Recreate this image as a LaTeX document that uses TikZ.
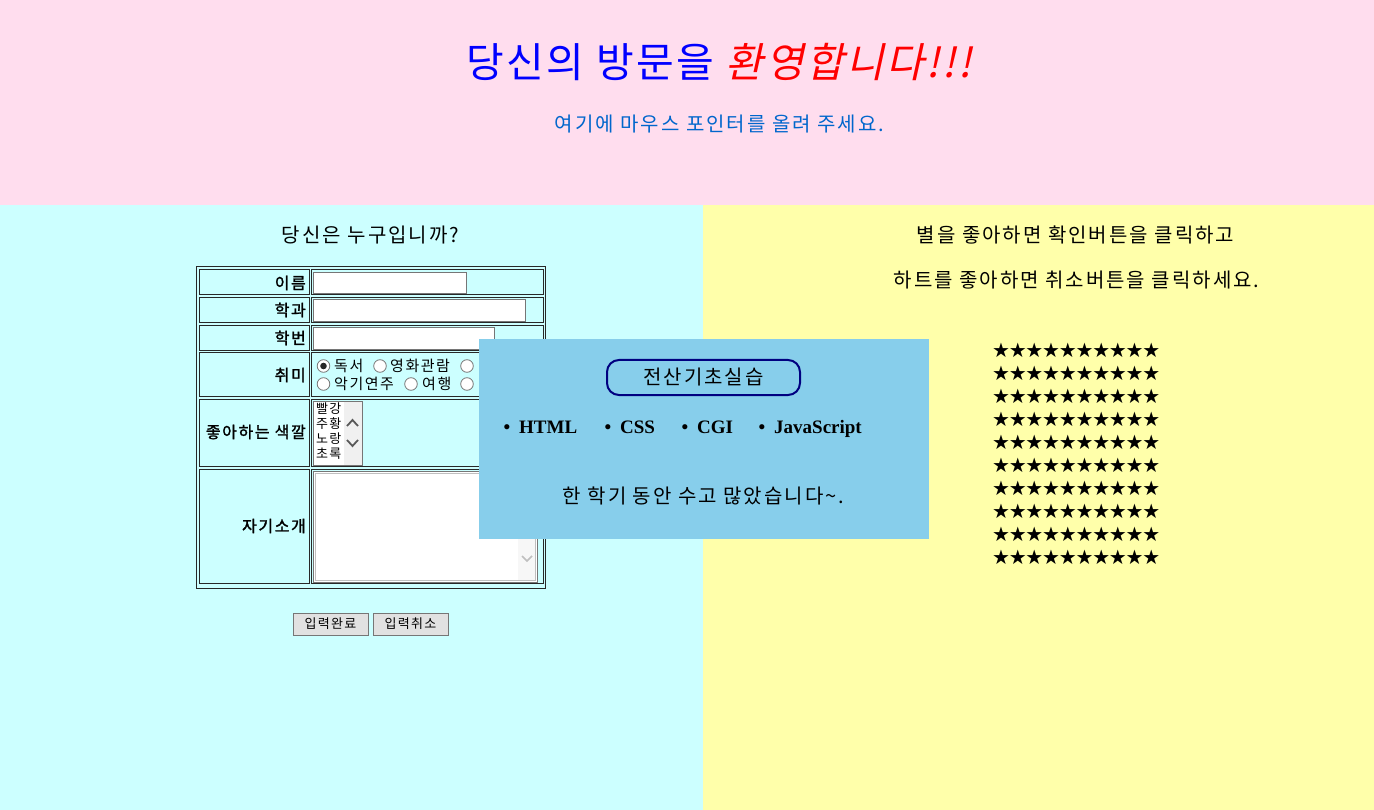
\documentclass[tikz,border=0pt]{standalone}
\usepackage{fontspec}
\setmainfont{Liberation Serif}
\newfontfamily\kr[LetterSpace=10]{Noto Sans CJK KR}
\newfontfamily\krt[LetterSpace=6]{Noto Sans CJK KR}
\newfontfamily\krb[FakeBold=1.6,LetterSpace=10]{Noto Sans CJK KR}
\newfontfamily\krit[FakeSlant=0.22,LetterSpace=6]{Noto Sans CJK KR}
\newfontfamily\dv{DejaVu Sans}
\definecolor{pinkbg}{RGB}{255,221,238}
\definecolor{cyanbg}{RGB}{204,255,255}
\definecolor{yellowbg}{RGB}{255,255,170}
\definecolor{skyb}{RGB}{135,206,235}
\definecolor{tblue}{RGB}{0,0,255}
\definecolor{tred}{RGB}{255,0,0}
\definecolor{subblue}{RGB}{0,102,204}
\definecolor{navyb}{RGB}{0,0,128}
\definecolor{cellline}{RGB}{40,40,40}
\definecolor{inputline}{RGB}{118,118,118}
\definecolor{btnfill}{RGB}{225,225,225}
\definecolor{scrollbg}{RGB}{240,240,240}
\newcommand\fs[1]{\fontsize{#1}{#1}\selectfont}
\newcommand\onestar{\makebox[16.7pt]{★}}
\newcommand\starrow{\onestar\onestar\onestar\onestar\onestar\onestar\onestar\onestar\onestar\onestar}
\tikzset{
  cell/.style={draw=cellline, line width=1pt},
  inputbox/.style={draw=inputline, fill=white, line width=1pt},
  lbl/.style={anchor=east, inner sep=0pt, font=\krb\fs{16}},
  opt/.style={anchor=west, inner sep=0pt, font=\kr\fs{15}},
  radio/.style={draw=inputline, fill=white, line width=0.8pt},
  item/.style={anchor=west, inner sep=0pt, font=\kr\fs{13}},
  btn/.style={draw=inputline, fill=btnfill, line width=0.8pt},
  btntext/.style={inner sep=0pt, font=\kr\fs{13}},
  chev/.style={draw=black!65, line width=1.8pt},
  bullet/.style={anchor=base, inner sep=0pt, font=\bfseries\fs{19}},
  tech/.style={anchor=base west, inner sep=0pt, font=\bfseries\fs{19}},
  starline/.style={anchor=west, inner sep=0pt, font=\dv\fs{20}},
  bigtext/.style={inner sep=0pt, font=\kr\fs{20}}
}
\begin{document}
\begin{tikzpicture}[x=1pt,y=-1pt]
\useasboundingbox (0,0) rectangle (1374,810);
% backgrounds
\fill[pinkbg] (0,0) rectangle (1374,205);
\fill[cyanbg] (0,205) rectangle (703,810);
\fill[yellowbg] (703,205) rectangle (1374,810);
% header
\node[inner sep=0pt] (title) at (719,62) {\krt\fs{41}\color{tblue}당신의 방문을 \krit\color{tred}환영합니다!!!};
\node[inner sep=0pt, text=subblue, font=\kr\fs{20}] (sub) at (719.5,124) {여기에 마우스 포인터를 올려 주세요.};
% left heading
\node[bigtext] (who) at (370.5,235) {당신은 누구입니까?};
% right texts
\node[bigtext] (r1) at (1075.5,235) {별을 좋아하면 확인버튼을 클릭하고};
\node[bigtext] (r2) at (1076.5,280) {하트를 좋아하면 취소버튼을 클릭하세요.};
% table
\draw[cell] (196,267) rectangle (545,588);
\foreach \a/\b in {270/295, 298/323, 326/351, 353/396, 399/466, 469/583}{
  \draw[cell] (199,\a) rectangle (309,\b);
  \draw[cell] (311,\a) rectangle (543,\b);
}
\node[lbl] (l1) at (306,283) {이름};
\node[lbl] (l2) at (306,310) {학과};
\node[lbl] (l3) at (306,338) {학번};
\node[lbl] (l4) at (306,375) {취미};
\node[lbl] (l5) at (306,432) {좋아하는 색깔};
\node[lbl] (l6) at (306,526) {자기소개};
% text inputs
\draw[inputbox] (313,273) rectangle (466,294);
\draw[inputbox] (313,300) rectangle (525,322);
\draw[inputbox] (313,328) rectangle (494,350);
% radios
\draw[radio] (323.5,366) circle (6.3);
\fill[black!85] (323.5,366) circle (3.3);
\draw[radio] (380,366) circle (6.3);
\draw[radio] (467,366) circle (6.3);
\draw[radio] (323.5,384) circle (6.3);
\draw[radio] (411,384) circle (6.3);
\draw[radio] (467,384) circle (6.3);
\node[opt] (o1) at (334,366) {독서};
\node[opt] (o2) at (390,366) {영화관람};
\node[opt] (o3) at (334,384) {악기연주};
\node[opt] (o4) at (422,384) {여행};
% select
\draw[inputbox] (313,401) rectangle (362,465);
\fill[scrollbg] (344,402) rectangle (361.5,464.5);
\draw[chev] (347,426) -- (352.5,420) -- (358,426);
\draw[chev] (347,440) -- (352.5,446) -- (358,440);
\node[item] (c1) at (316,409) {빨강};
\node[item] (c2) at (316,424) {주황};
\node[item] (c3) at (316,439) {노랑};
\node[item] (c4) at (316,454) {초록};
% textarea
\draw[inputbox] (313,471) rectangle (537,582);
\draw[draw=black!25, line width=0.6pt] (315,473) rectangle (535,580);
\fill[white!97!black] (518,474) rectangle (534.5,579.5);
\draw[draw=black!25, line width=1.6pt] (522,556) -- (527,561) -- (532,556);
% buttons
\draw[btn] (293,613) rectangle (368,635);
\draw[btn] (373,613) rectangle (448,635);
\node[btntext] (b1) at (330.5,624) {입력완료};
\node[btntext] (b2) at (410.5,624) {입력취소};
% stars
\foreach \r in {0,...,9}{
  \node[starline] (star\r) at (992.5,350+23*\r) {\starrow};
}
% popup
\fill[skyb] (479,339) rectangle (929,539);
\draw[navyb, line width=2pt, rounded corners=12pt] (607,360) rectangle (800,395);
\node[bigtext] (course) at (703.5,377.5) {전산기초실습};
\node[bullet] (d1) at (507,433) {•};
\node[tech] (t1) at (519,433) {HTML};
\node[bullet] (d2) at (608,433) {•};
\node[tech] (t2) at (620,433) {CSS};
\node[bullet] (d3) at (685,433) {•};
\node[tech] (t3) at (697,433) {CGI};
\node[bullet] (d4) at (762,433) {•};
\node[tech] (t4) at (774,433) {JavaScript};
\node[bigtext] (thanks) at (703.5,496) {한 학기 동안 수고 많았습니다\textasciitilde.};
\end{tikzpicture}
\end{document}
